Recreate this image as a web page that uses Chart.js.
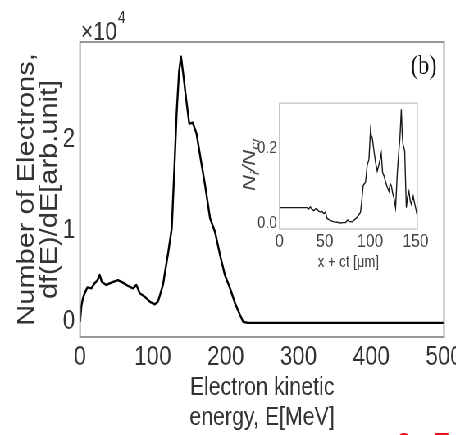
<!DOCTYPE html>
<html lang="en">
<head>
    <meta charset="UTF-8">
    <title>Electron energy spectrum</title>
    <script src="https://cdn.jsdelivr.net/npm/chart.js"></script>
    <style>
        body { margin: 0; background: #fff; }
        #wrap { position: relative; width: 456px; height: 435px; overflow: hidden; }
        /* the original figure is squeezed horizontally, so draw wide and squeeze */
        #stage { position: absolute; left: 0; top: 0; width: 556px; height: 435px;
                 transform: scaleX(0.82); transform-origin: 0 0; }
        #mainChart { position: absolute; left: 0; top: 0; }
        #insetChart { position: absolute; left: 280.5px; top: 90px; }
    </style>
</head>
<body>
<div id="wrap">
  <div id="stage">
    <canvas id="mainChart" width="556" height="435"></canvas>
    <canvas id="insetChart" width="244" height="190"></canvas>
  </div>
</div>
<script>
    // main spectrum, values in units of 10^4
    const energyMeV = [0, 1.8, 4, 6.4, 10, 15.6, 20, 24, 27, 30, 36, 43, 52, 59, 66, 72.8, 77.4, 82, 88.8, 95.7,
        102.6, 107, 110, 114, 116.8, 121.3, 126, 129, 132.8, 136, 138.7, 142, 145.6, 150, 154.8, 160, 164.8,
        171.7, 178.6, 185.4, 192.3, 199, 206, 213, 219.8, 224, 230, 300, 400, 500];
    const dfdE = [0, 0.17, 0.26, 0.315, 0.38, 0.37, 0.425, 0.46, 0.516, 0.44, 0.407, 0.432, 0.46, 0.432, 0.396,
        0.37, 0.407, 0.315, 0.278, 0.223, 0.194, 0.223, 0.3, 0.41, 0.553, 0.773, 1.03, 1.58, 2.31, 2.75, 2.915,
        2.71, 2.46, 2.18, 2.19, 2.07, 1.835, 1.505, 1.14, 0.99, 0.736, 0.516, 0.37, 0.205, 0.077, 0.003,
        -0.01, -0.01, -0.01, -0.01];
    const mainXTicks = [0, 100, 200, 300, 400, 500];
    const mainYTicks = [0, 1, 2];

    // inset: ion density profile
    const xct = [0, 30.5, 32.4, 34, 36, 37.9, 40, 41.6, 43.5, 45.3, 47, 48.9, 50.7, 52.6, 56, 60, 64, 67.3, 70,
        72.8, 75.4, 77, 80.2, 83, 85.7, 87.5, 89.4, 90.8, 92.3, 94.9, 96.8, 98.6, 100.4, 101.3, 102.3, 104.1,
        106, 107.8, 109.6, 111, 112.2, 113.7, 115.3, 117, 118.8, 120.7, 122, 123.3, 124.7, 126.2, 128, 129.9,
        131.5, 132.8, 134.3, 135.2, 136.1, 138, 139.8, 141.2, 142.7, 144, 145.3, 147.4, 148.7, 150, 151.8];
    const NiNcr = [0.041, 0.041, 0.037, 0.043, 0.036, 0.033, 0.038, 0.037, 0.031, 0.029, 0.031, 0.025, 0.029,
        0.012, 0.007, 0.003, 0.002, 0, 0.001, 0.001, 0.008, 0.004, 0.003, 0.009, 0.016, 0.022, 0.029, 0.06, 0.1,
        0.109, 0.155, 0.168, 0.248, 0.232, 0.227, 0.193, 0.16, 0.138, 0.155, 0.17, 0.185, 0.134, 0.125, 0.109,
        0.095, 0.084, 0.105, 0.1, 0.08, 0.067, 0.041, 0.134, 0.19, 0.227, 0.303, 0.24, 0.21, 0.193, 0.041, 0.07,
        0.084, 0.06, 0.05, 0.071, 0.055, 0.041, 0.02];
    const insetXTicks = [0, 50, 100, 150];
    const insetYTicks = [0, 0.2];

    const sans = "'Liberation Sans', Arial, sans-serif";
    const textColor = '#333';

    // box around the plot area
    const frame = {
        id: 'frame',
        afterDraw(chart, args, opts) {
            const {ctx, chartArea: a} = chart;
            ctx.save();
            ctx.strokeStyle = opts.color;
            ctx.lineWidth = opts.width;
            ctx.strokeRect(a.left, a.top, a.right - a.left, a.bottom - a.top);
            ctx.restore();
        }
    };

    const mainText = {
        id: 'mainText',
        afterDraw(chart) {
            const {ctx, chartArea: a} = chart;
            ctx.save();
            ctx.fillStyle = textColor;
            ctx.textBaseline = 'alphabetic';
            ctx.font = '26px ' + sans;
            ctx.fillText('\u00d710', a.left + 1, a.top - 2);
            const w = ctx.measureText('\u00d710').width;
            ctx.font = '17px ' + sans;
            ctx.fillText('4', a.left + 2 + w, a.top - 19);
            ctx.fillStyle = '#111';
            ctx.font = '27px "Liberation Serif", "Times New Roman", serif';
            ctx.textAlign = 'right';
            ctx.fillText('(b)', a.right - 9, a.top + 32);
            // partly cut-off red text at the bottom edge
            ctx.fillStyle = '#e8141b';
            ctx.textAlign = 'left';
            ctx.font = 'bold 28px ' + sans;
            ctx.fillText('3', 485, chart.height + 17);
            ctx.fillText('T', 530, chart.height + 17);
            ctx.restore();
        }
    };

    // keep the plot area where it is, let edge labels overflow
    const noEdgePad = s => { s.paddingLeft = 0; s.paddingRight = 0; };

    new Chart(document.getElementById('mainChart'), {
        type: 'line',
        data: {
            datasets: [{
                data: energyMeV.map((e, i) => ({x: e, y: dfdE[i]})),
                borderColor: '#000',
                borderWidth: 2.4,
                borderJoinStyle: 'round',
                pointRadius: 0,
                tension: 0,
                fill: false
            }]
        },
        options: {
            responsive: false,
            animation: false,
            devicePixelRatio: 1,
            layout: {padding: {top: 42, right: 14.5, left: 0, bottom: 0}},
            plugins: {
                legend: {display: false},
                tooltip: {enabled: false},
                frame: {color: '#8c8c8c', width: 1.8}
            },
            scales: {
                x: {
                    type: 'linear',
                    min: 0,
                    max: 500,
                    afterFit: s => { s.height = 98; noEdgePad(s); },
                    afterBuildTicks: s => { s.ticks = mainXTicks.map(v => ({value: v})); },
                    grid: {display: false, drawTicks: false},
                    border: {display: false},
                    ticks: {color: textColor, font: {family: sans, size: 27}, padding: 4, maxRotation: 0},
                    title: {
                        display: true,
                        text: ['Electron kinetic', 'energy, E[MeV]'],
                        color: textColor,
                        font: {family: sans, size: 26, lineHeight: '30px'},
                        padding: {top: 0, bottom: 2}
                    }
                },
                y: {
                    min: -0.165,
                    max: 3.077,
                    afterFit: s => { s.width = 97.6; },
                    afterBuildTicks: s => { s.ticks = mainYTicks.map(v => ({value: v})); },
                    grid: {display: false, drawTicks: false},
                    border: {display: false},
                    ticks: {color: textColor, font: {family: sans, size: 27}, padding: 6},
                    title: {
                        display: true,
                        text: ['Number of Electrons,', 'df(E)/dE[arb.unit]'],
                        color: textColor,
                        font: {family: sans, size: 29, lineHeight: '28px'},
                        padding: {top: 19, bottom: 0}
                    }
                }
            }
        },
        plugins: [frame, mainText]
    });

    // rotated N_i/N_cr label with subscripts
    const insetLabel = {
        id: 'insetLabel',
        afterDraw(chart) {
            const {ctx, chartArea: a} = chart;
            const parts = [['N', 22, 0], ['i', 15, 5], ['/N', 22, 0], ['cr', 15, 5]];
            ctx.save();
            ctx.fillStyle = '#444';
            ctx.textBaseline = 'alphabetic';
            let total = 0;
            parts.forEach(p => { ctx.font = 'italic ' + p[1] + 'px ' + sans; total += ctx.measureText(p[0]).width; });
            ctx.translate(a.left - 38, (a.top + a.bottom) / 2 - 2);
            ctx.rotate(-Math.PI / 2);
            let x = -total / 2;
            parts.forEach(p => {
                ctx.font = 'italic ' + p[1] + 'px ' + sans;
                ctx.fillText(p[0], x, 8 + p[2]);
                x += ctx.measureText(p[0]).width;
            });
            ctx.restore();
        }
    };

    new Chart(document.getElementById('insetChart'), {
        type: 'line',
        data: {
            datasets: [{
                data: xct.map((v, i) => ({x: v, y: NiNcr[i]})),
                borderColor: '#1a1a1a',
                borderWidth: 1.4,
                pointRadius: 0,
                tension: 0,
                fill: false
            }]
        },
        options: {
            responsive: false,
            animation: false,
            devicePixelRatio: 1,
            layout: {padding: {top: 6, right: 16, left: 0, bottom: 0}},
            plugins: {
                legend: {display: false},
                tooltip: {enabled: false},
                frame: {color: '#c4c4c4', width: 1.3}
            },
            scales: {
                x: {
                    type: 'linear',
                    min: 0,
                    max: 152,
                    afterFit: s => { s.height = 51; noEdgePad(s); },
                    afterBuildTicks: s => { s.ticks = insetXTicks.map(v => ({value: v})); },
                    grid: {display: false, drawTicks: false},
                    border: {display: false},
                    ticks: {color: '#444', font: {family: sans, size: 19}, padding: 1, maxRotation: 0},
                    title: {
                        display: true,
                        text: 'x + ct [\u03bcm]',
                        color: '#444',
                        font: {family: sans, size: 16, lineHeight: 1.2},
                        padding: {top: 0, bottom: 8}
                    }
                },
                y: {
                    min: -0.016,
                    max: 0.319,
                    afterFit: s => { s.width = 59.7; },
                    afterBuildTicks: s => { s.ticks = insetYTicks.map(v => ({value: v})); },
                    grid: {display: false, drawTicks: false},
                    border: {display: false},
                    ticks: {
                        color: '#444',
                        font: {family: sans, size: 17},
                        padding: 3,
                        callback: v => v.toFixed(1)
                    }
                }
            }
        },
        plugins: [frame, insetLabel]
    });
</script>
</body>
</html>
